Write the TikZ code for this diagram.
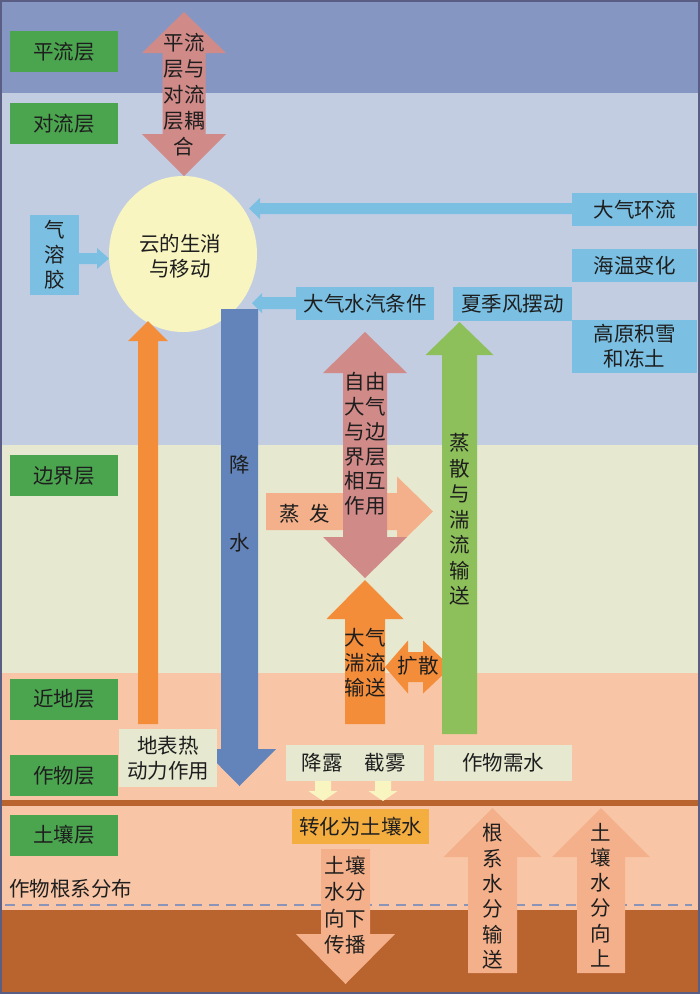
\documentclass[tikz,border=0pt]{standalone}
\usepackage{fontspec}
\setmainfont{Noto Sans CJK SC}
\definecolor{strat}{HTML}{8696C3}
\definecolor{tropo}{HTML}{C3CDE2}
\definecolor{bound}{HTML}{E6E9D0}
\definecolor{near}{HTML}{F8C6A6}
\definecolor{brownc}{HTML}{B9632F}
\definecolor{lgreen}{HTML}{4BA54F}
\definecolor{lblue}{HTML}{7BBFE2}
\definecolor{pinkarr}{HTML}{D08A88}
\definecolor{bluearr}{HTML}{6284BA}
\definecolor{orangearr}{HTML}{F38D3A}
\definecolor{greenarr}{HTML}{8DC05A}
\definecolor{peach}{HTML}{F3B08A}
\definecolor{cream}{HTML}{F8F5C0}
\definecolor{goldbox}{HTML}{F4AE40}
\definecolor{framec}{HTML}{5A5E85}
\definecolor{dashc}{HTML}{8A93B8}
\definecolor{txt}{HTML}{1E1E1E}
% vertical single block arrow: colour, cx, tip y, head base y, head half width, shaft half width, tail y
\newcommand\BlkV[7]{\fill[#1] ({#2},{#3}) -- ({#2+#5},{#4}) -- ({#2+#6},{#4}) -- ({#2+#6},{#7}) -- ({#2-#6},{#7}) -- ({#2-#6},{#4}) -- ({#2-#5},{#4}) -- cycle;}
% horizontal single block arrow: colour, cy, tip x, head base x, head half height, shaft half height, tail x
\newcommand\BlkH[7]{\fill[#1] ({#3},{#2}) -- ({#4},{#2-#5}) -- ({#4},{#2-#6}) -- ({#7},{#2-#6}) -- ({#7},{#2+#6}) -- ({#4},{#2+#6}) -- ({#4},{#2+#5}) -- cycle;}
% vertical double block arrow: colour, cx, tip1, base1, base2, tip2, hw, sw
\newcommand\BlkDV[8]{\fill[#1] ({#2},{#3}) -- ({#2+#7},{#4}) -- ({#2+#8},{#4}) -- ({#2+#8},{#5}) -- ({#2+#7},{#5}) -- ({#2},{#6}) -- ({#2-#7},{#5}) -- ({#2-#8},{#5}) -- ({#2-#8},{#4}) -- ({#2-#7},{#4}) -- cycle;}
% horizontal double block arrow: colour, cy, tip1, base1, base2, tip2, hh, sh
\newcommand\BlkDH[8]{\fill[#1] ({#3},{#2}) -- ({#4},{#2-#7}) -- ({#4},{#2-#8}) -- ({#5},{#2-#8}) -- ({#5},{#2-#7}) -- ({#6},{#2}) -- ({#5},{#2+#7}) -- ({#5},{#2+#8}) -- ({#4},{#2+#8}) -- ({#4},{#2+#7}) -- cycle;}
\begin{document}
\begin{tikzpicture}[x=1pt,y=-1pt,
  lbl/.style={text=txt,inner sep=0pt,align=center,font=\fontsize{20.5}{25}\selectfont},
  gbox/.style={lbl,fill=lgreen,minimum width=108pt,minimum height=41pt},
  bbox/.style={lbl,fill=lblue},
  cbox/.style={lbl,fill=bound}]
\useasboundingbox (0,0) rectangle (700,994);
% layers
\fill[strat] (0,0) rectangle (700,93);
\fill[tropo] (0,93) rectangle (700,445);
\fill[bound] (0,445) rectangle (700,673);
\fill[near] (0,673) rectangle (700,800);
\fill[brownc] (0,800) rectangle (700,806);
\fill[near] (0,806) rectangle (700,910);
\fill[brownc] (0,910) rectangle (700,994);
\coordinate (dl) at (5,905);
\coordinate (dr) at (692,905);
\draw[dashc,line width=1.5pt,dash pattern=on 10pt off 7pt] (dl) -- (dr);
\node[lbl,anchor=west] (roots) at (9,889) {作物根系分布};
% green layer labels
\node[gbox] (g1) at (64,51.5) {平流层};
\node[gbox] (g2) at (64,123.5) {对流层};
\node[gbox] (g3) at (64,475.5) {边界层};
\node[gbox] (g4) at (64,699) {近地层};
\node[gbox] (g5) at (64,775.5) {作物层};
\node[gbox] (g6) at (64,835) {土壤层};
% top coupling arrow
\BlkDV{pinkarr}{184}{12}{53}{134}{176}{42}{21.5}
\node[lbl,font=\fontsize{20.5}{26}\selectfont] (couple) at (184,95) {平流\\层与\\对流\\层耦\\合};
% cloud
\fill[cream] (183,254) ellipse [x radius=74, y radius=78];
\node[lbl] (cloud) at (180,256) {云的生消\\与移动};
% blue boxes
\node[bbox,minimum width=49pt,minimum height=80pt] (aer) at (54.5,255) {气\\溶\\胶};
\node[bbox,minimum width=125pt,minimum height=33pt] (circ) at (634.5,209.5) {大气环流};
\node[bbox,minimum width=125pt,minimum height=33pt] (sst) at (634.5,265.5) {海温变化};
\node[bbox,minimum width=125pt,minimum height=53pt] (snow) at (634.5,346.5) {高原积雪\\和冻土};
\node[bbox,minimum width=119pt,minimum height=34pt] (mons) at (512.5,304) {夏季风摆动};
\node[bbox,minimum width=138pt,minimum height=33pt] (vap) at (365,303.5) {大气水汽条件};
\BlkH{lblue}{208.5}{249}{260}{10.5}{5.5}{572}
\BlkH{lblue}{303}{252}{262}{10}{6}{296}
\BlkH{lblue}{258.5}{109}{97}{10.5}{5.5}{79}
% precipitation
\BlkV{bluearr}{239.5}{786}{749}{36.5}{18.5}{309}
\node[lbl] (p1) at (239.5,465) {降};
\node[lbl] (p2) at (239.5,543) {水};
% surface thermodynamic arrow
\BlkV{orangearr}{148}{321}{341}{20}{10}{724}
% evaporation and interaction arrow
\BlkH{peach}{511.5}{433}{397}{35}{18.5}{266}
\node[lbl] (evap) at (305,514) {蒸\hspace{10pt}发};
\BlkDV{pinkarr}{365}{332}{373}{537}{578}{42}{22}
\node[lbl,font=\fontsize{20.5}{24.8}\selectfont] (inter) at (365,444) {自由\\大气\\与边\\界层\\相互\\作用};
% turbulence
\BlkV{orangearr}{365}{580}{619}{38.5}{20}{724}
\node[lbl] (turb) at (365,663) {大气\\湍流\\输送};
\BlkDH{orangearr}{667}{385}{408}{423}{451}{26.5}{15}
\node[lbl] (diff) at (418,666) {扩散};
% evapotranspiration
\BlkV{greenarr}{459.5}{322}{355}{34}{17.5}{734}
\node[lbl,font=\fontsize{20.5}{25.5}\selectfont] (et) at (459.5,519.5) {蒸\\散\\与\\湍\\流\\输\\送};
% lower boxes
\node[cbox,minimum width=98pt,minimum height=58pt] (surf) at (168,758) {地表热\\动力作用};
\node[cbox,minimum width=138pt,minimum height=36pt] (dew) at (355,763) {};
\node[lbl] (dewa) at (322,763) {降露};
\node[lbl] (dewb) at (385,763) {截雾};
\node[cbox,minimum width=138pt,minimum height=36pt] (need) at (503,763) {作物需水};
\BlkV{cream}{323}{801}{791}{14.5}{8}{781}
\BlkV{cream}{383}{801}{791}{14.5}{8}{781}
\node[lbl,fill=goldbox,minimum width=137pt,minimum height=35pt] (soilw) at (360.5,826.5) {转化为土壤水};
% soil arrows
\BlkV{peach}{345.5}{984}{934}{49.5}{24.5}{849}
\node[lbl,font=\fontsize{20.5}{26.5}\selectfont] (down) at (345,905) {土壤\\水分\\向下\\传播};
\BlkV{peach}{492.5}{808}{857}{49}{24.5}{973}
\node[lbl,font=\fontsize{20.5}{25.4}\selectfont] (rootw) at (493,896.5) {根\\系\\水\\分\\输\\送};
\BlkV{peach}{601}{808}{857}{49}{24}{973}
\node[lbl,font=\fontsize{20.5}{25.2}\selectfont] (up) at (601,895) {土\\壤\\水\\分\\向\\上};
% frame
\draw[framec,line width=2pt] (1,1) rectangle (699,993);
\end{tikzpicture}
\end{document}
